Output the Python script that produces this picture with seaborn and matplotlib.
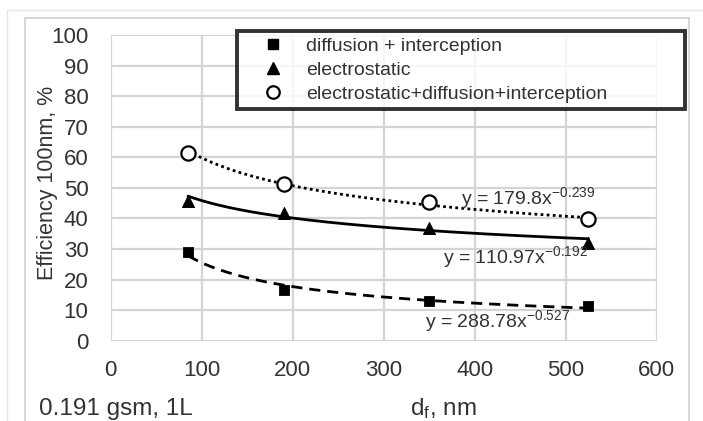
import numpy as np
import pandas as pd
import seaborn as sns
from matplotlib import pyplot as plt
from matplotlib.lines import Line2D
from matplotlib.patches import Rectangle
from matplotlib import font_manager

# data
df_nm = [85, 190, 350, 525]
diff_int = [29.0, 16.6, 12.9, 11.3]
electro = [45.6, 41.9, 37.0, 31.8]
combined = [61.4, 51.4, 45.3, 39.7]

# power trendlines printed on the chart: y = a * x^b
coef_a = [288.78, 110.97, 179.8]
coef_b = [-0.527, -0.192, -0.239]
series_names = ['diffusion + interception', 'electrostatic',
                'electrostatic+diffusion+interception']

sns.set_style('white')
plt.rcParams['font.family'] = ['Liberation Sans', 'DejaVu Sans']
plt.rcParams['mathtext.fontset'] = 'custom'
plt.rcParams['mathtext.rm'] = 'Liberation Sans'
plt.rcParams['mathtext.it'] = 'Liberation Sans'

names = {f.name for f in font_manager.fontManager.ttflist}
narrow = 'Liberation Sans Narrow' if 'Liberation Sans Narrow' in names else 'Liberation Sans'

df = pd.DataFrame({'x': df_nm * 3,
                   'y': diff_int + electro + combined,
                   'series': sum([[n] * 4 for n in series_names], [])})

fig = plt.figure(figsize=(7.03, 4.21), dpi=100)
ax = fig.add_axes([0.1575, 0.1907, 0.7767, 0.7262])

# trendlines
xs = np.linspace(df_nm[0], df_nm[-1], 200)
styles = [(0, (4, 2.5)), '-', (0, (1, 1.2))]
for a, b, ls in zip(coef_a, coef_b, styles):
    sns.lineplot(x=xs, y=a * xs ** b, ax=ax, color='black', lw=2,
                 linestyle=ls, zorder=3)

# markers
sns.scatterplot(data=df[df.series == series_names[0]], x='x', y='y', ax=ax,
                marker='s', s=55, color='black', edgecolor='black', zorder=4)
sns.scatterplot(data=df[df.series == series_names[1]], x='x', y='y', ax=ax,
                marker='^', s=75, color='black', edgecolor='black', zorder=4)
sns.scatterplot(data=df[df.series == series_names[2]], x='x', y='y', ax=ax,
                marker='o', s=105, facecolor='white', edgecolor='black',
                linewidth=1.6, zorder=4)

ax.set_xlim(0, 600)
ax.set_ylim(0, 100)
ax.set_xticks(range(0, 601, 100))
ax.set_yticks(range(0, 101, 10))
ax.grid(True, color='#d4d4d4', lw=1.6)
for s in ax.spines.values():
    s.set_visible(False)
ax.tick_params(axis='both', length=0, labelsize=16, colors='#333333',
               labelfontfamily=narrow)
ax.tick_params(axis='y', pad=16)
ax.tick_params(axis='x', pad=14)
ax.set_xlabel('')
ax.set_ylabel('Efficiency 100nm, %', fontsize=17.5 if narrow != 'Liberation Sans' else 15.5,
              color='#333333', family=narrow)
ax.yaxis.set_label_coords(-0.097, 0.5175)

# equations
ax.text(385, 44.8, r'y = 179.8x$^{\mathregular{-0.239}}$', fontsize=14,
        color='#333333', zorder=5)
ax.text(365, 25.5, r'y = 110.97x$^{\mathregular{-0.192}}$', fontsize=14,
        color='#333333', zorder=5)
ax.text(345, 4.3, r'y = 288.78x$^{\mathregular{-0.527}}$', fontsize=14,
        color='#333333', zorder=5)

fig.text(0.630, 0.0143, r'd$_\mathregular{f}$, nm', fontsize=17.5,
         color='#333333', ha='center')
fig.text(0.055, 0.0143, '0.191 gsm, 1L', fontsize=17.5, color='#333333')

handles = [
    Line2D([], [], marker='s', ls='', color='black', markersize=7.5),
    Line2D([], [], marker='^', ls='', color='black', markersize=8),
    Line2D([], [], marker='o', ls='', markerfacecolor='white',
           markeredgecolor='black', markeredgewidth=1.6, markersize=9),
]
leg = fig.legend(handles, series_names, loc='upper left',
                 bbox_to_anchor=(0.337, 0.926, 0.637, 0.0), mode='expand',
                 borderaxespad=0, fontsize=14, frameon=True, fancybox=False,
                 handletextpad=0.17, labelspacing=0.34, borderpad=0.3,
                 handlelength=3.1)
leg.get_frame().set_edgecolor('black')
leg.get_frame().set_linewidth(2.8)
for t in leg.get_texts():
    t.set_color('#333333')

# image frames
fig.patches.append(Rectangle((0.010, -0.1), 1.1, 1.076, transform=fig.transFigure,
                             fill=False, edgecolor='#e6e6e6', lw=1.0))
fig.patches.append(Rectangle((0.036, -0.1), 0.944, 1.057, transform=fig.transFigure,
                             fill=False, edgecolor='#cfcfcf', lw=1.2))

fig.savefig('out.png', dpi=100)
